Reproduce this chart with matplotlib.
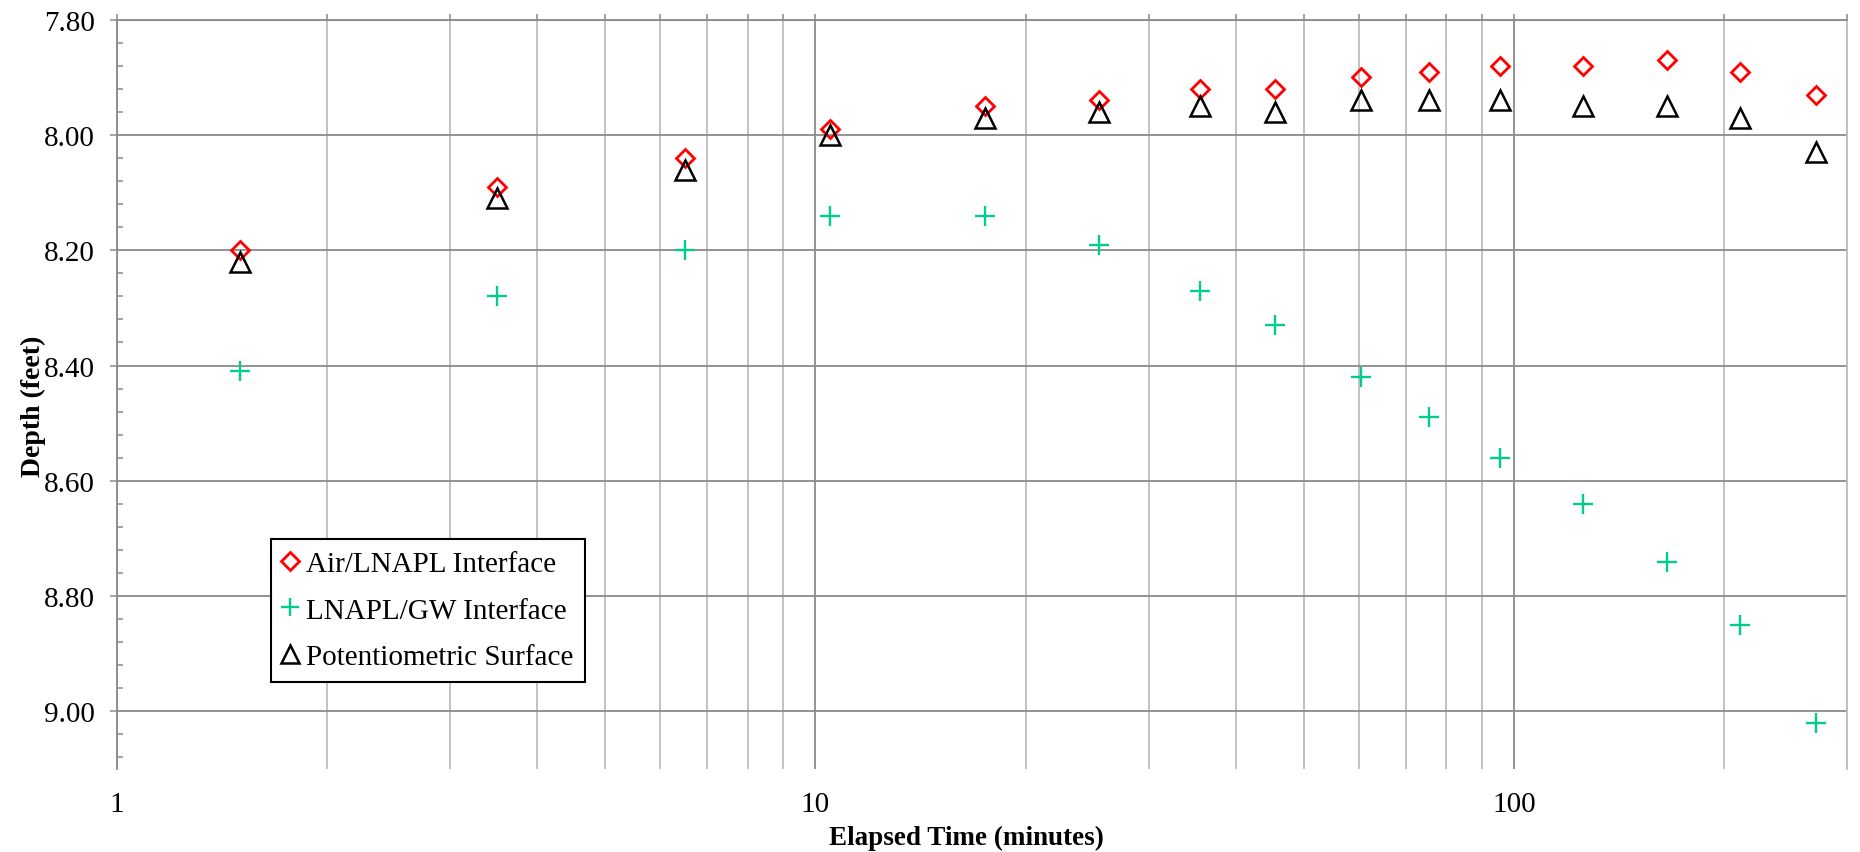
import numpy as np
import matplotlib
matplotlib.use("Agg")
import matplotlib.pyplot as plt
from matplotlib.ticker import LogLocator, FixedLocator, MultipleLocator, NullFormatter, FuncFormatter

plt.rcParams['font.family'] = ['Liberation Serif', 'DejaVu Serif']

# 数据：时间（分钟）与各界面深度（英尺）
elapsed = [1.5, 3.5, 6.5, 10.5, 17.5, 25.5, 35.5, 45.5, 60.5, 75.5, 95.5, 125.5, 165.5, 210.5, 270.5]
air_lnapl = [8.20, 8.09, 8.04, 7.99, 7.95, 7.94, 7.92, 7.92, 7.90, 7.89, 7.88, 7.88, 7.87, 7.89, 7.93]
lnapl_gw = [8.41, 8.28, 8.20, 8.14, 8.14, 8.19, 8.27, 8.33, 8.42, 8.49, 8.56, 8.64, 8.74, 8.85, 9.02]
potentio = [8.22, 8.11, 8.06, 8.00, 7.97, 7.96, 7.95, 7.96, 7.94, 7.94, 7.94, 7.95, 7.95, 7.97, 8.03]

y_ticks = [7.80, 8.00, 8.20, 8.40, 8.60, 8.80, 9.00]

fig = plt.figure(figsize=(18.6, 8.53), dpi=100)
ax = fig.add_axes([0.0629, 0.0973, 0.9301, 0.8784])

dark = "#8a8a8a"
light = "#bdbdbd"

ax.plot(elapsed, air_lnapl, linestyle="none", marker="D", markersize=9.5,
        markerfacecolor="none", markeredgecolor="#ff0000", markeredgewidth=2,
        label="Air/LNAPL Interface", zorder=5)
ax.plot(elapsed, lnapl_gw, linestyle="none", marker="+", markersize=14,
        markeredgecolor="#00cc8f", markeredgewidth=1.7,
        label="LNAPL/GW Interface", zorder=5)
ax.plot(elapsed, potentio, linestyle="none", marker="^", markersize=14,
        markerfacecolor="none", markeredgecolor="black", markeredgewidth=1.8,
        label="Potentiometric Surface", zorder=5)

ax.set_xscale("log")
ax.set_xlim(1, 300)
ax.set_ylim(9.10, 7.80)

ax.xaxis.set_major_locator(LogLocator(base=10, numticks=10))
ax.xaxis.set_minor_locator(LogLocator(base=10, subs=np.arange(2, 10), numticks=10))
ax.xaxis.set_major_formatter(FuncFormatter(lambda v, p: f"{v:g}"))
ax.xaxis.set_minor_formatter(NullFormatter())

ax.yaxis.set_major_locator(FixedLocator(y_ticks))
ax.yaxis.set_minor_locator(MultipleLocator(0.04))
ax.set_yticklabels([f"{v:.2f}" for v in y_ticks])

# 网格线
ax.grid(which="major", axis="x", color=dark, linewidth=1.3)
ax.grid(which="minor", axis="x", color=light, linewidth=1.3)
ax.grid(which="major", axis="y", color=dark, linewidth=1.3)
ax.set_axisbelow(True)

ax.spines["bottom"].set_visible(False)
ax.spines["top"].set_color(dark)
ax.spines["top"].set_linewidth(1.3)
ax.spines["left"].set_color(dark)
ax.spines["left"].set_linewidth(1.3)
ax.spines["right"].set_color(light)
ax.spines["right"].set_linewidth(1.3)

ax.tick_params(axis="x", which="both", top=True, bottom=False, labelbottom=True,
               direction="out", length=4.5, width=1.1, color=dark,
               labelsize=21, pad=11)
ax.tick_params(axis="y", which="major", direction="out", length=5, width=1.1,
               color=dark, labelsize=21, pad=11)
ax.tick_params(axis="y", which="minor", direction="in", length=4.5, width=1.1,
               color=dark)

ax.set_xlabel("Elapsed Time (minutes)", fontsize=19.5, fontweight="bold")
ax.xaxis.set_label_coords(0.491, -0.075)
ax.set_ylabel("Depth (feet)", fontsize=20, fontweight="bold")
ax.yaxis.set_label_coords(-0.041, 0.485)

leg = ax.legend(loc="lower left", bbox_to_anchor=(0.089, 0.116), borderaxespad=0,
                fontsize=21, frameon=True, fancybox=False, handlelength=0.5,
                handletextpad=0.3, labelspacing=0.7, borderpad=0.4,
                markerscale=0.95)
leg.get_frame().set_edgecolor("black")
leg.get_frame().set_linewidth(1.5)
leg.get_frame().set_alpha(1)

plt.savefig("out.png", dpi=100)
